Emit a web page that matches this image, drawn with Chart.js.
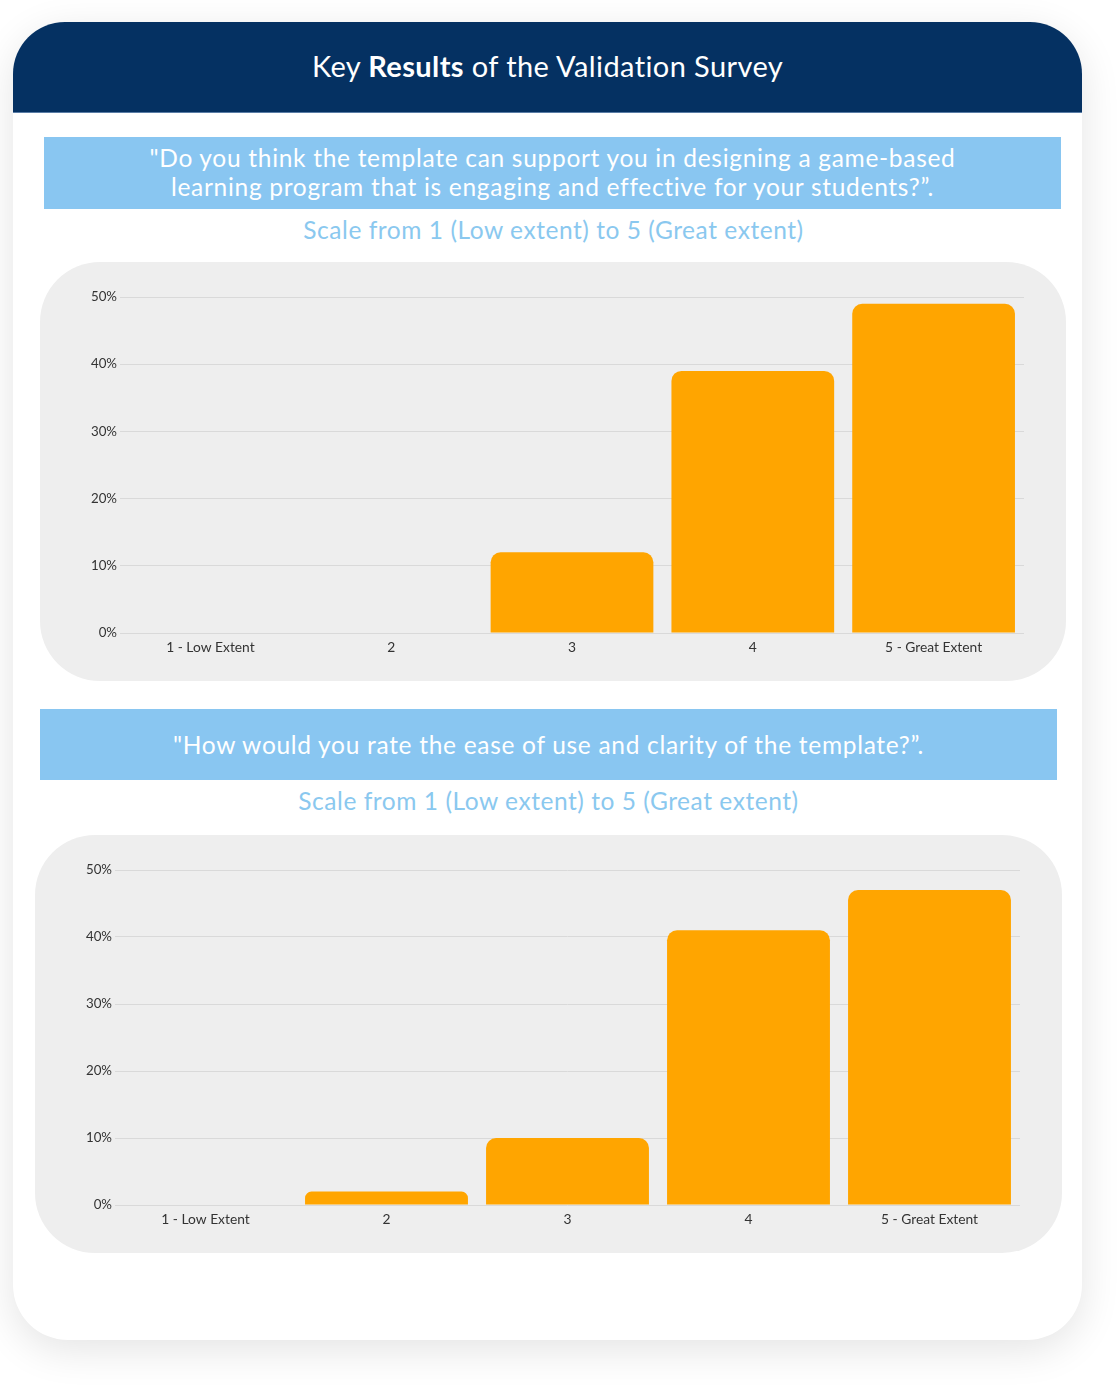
<!DOCTYPE html>
<html lang="en">
<head>
<meta charset="UTF-8">
<script src="https://cdn.jsdelivr.net/npm/chart.js"></script>
<title>Key Results of the Validation Survey</title>
<style>
  body { margin: 0; background: #fff; font-family: Lato, "Open Sans", sans-serif; }
  .card {
    position: absolute; left: 13px; top: 22px; width: 1069px; height: 1318px;
    background: #fff; border-radius: 55px;
    box-shadow: 0 10px 40px rgba(0,0,0,0.11);
  }
  .header {
    position: absolute; left: 13px; top: 22px; width: 1069px; height: 91px;
    background: #053162; border-radius: 52px 52px 0 0;
    color: #fff; font-size: 29px; letter-spacing: 0.4px; text-align: center; line-height: 88px;
    border-bottom: 1px solid #5a7da6; box-sizing: border-box;
  }
  .banner {
    position: absolute; background: #89c6f1; color: #fff;
    font-size: 24.5px; letter-spacing: 0.7px; text-align: center; display: flex;
    align-items: center; justify-content: center; line-height: 29px;
  }
  .sub {
    position: absolute; color: #8ac8ef; font-size: 24.5px; letter-spacing: 0.55px; text-align: center; width: 1117px;
  }
  .panel { position: absolute; background: #eeeeee; border-radius: 60px; }
  .panel canvas { position: absolute; left: 0; top: 0; }
</style>
</head>
<body>
<div class="card"></div>
<div class="header">Key <b>Results</b> of the Validation Survey</div>

<div class="banner" style="left:44px;top:137px;width:1017px;height:69px;padding-bottom:3px;">"Do you think the template can support you in designing a game-based<br>learning program that is engaging and effective for your students?”.</div>
<div class="sub" style="top:215px;left:-5px;">Scale from 1 (Low extent) to 5 (Great extent)</div>
<div class="panel" style="left:40px;top:262px;width:1026px;height:419px;"><canvas id="chart1" width="1026" height="419"></canvas></div>

<div class="banner" style="left:40px;top:709px;width:1017px;height:71px;">"How would you rate the ease of use and clarity of the template?”.</div>
<div class="sub" style="top:786px;left:-10px;">Scale from 1 (Low extent) to 5 (Great extent)</div>
<div class="panel" style="left:35px;top:835px;width:1027px;height:418px;"><canvas id="chart2" width="1027" height="418"></canvas></div>

<script>
const categories = ['1 - Low Extent', '2', '3', '4', '5 - Great Extent'];
const supportValues = [0, 0, 12, 39, 49];   // % of respondents, question 1
const easeValues = [0, 2, 10, 41, 47];      // % of respondents, question 2
const yTicks = [0, 10, 20, 30, 40, 50];

function makeChart(id, values) {
  const ctx = document.getElementById(id).getContext('2d');
  return new Chart(ctx, {
    type: 'bar',
    data: {
      labels: categories,
      datasets: [{
        data: values,
        backgroundColor: '#ffa500',
        borderRadius: { topLeft: 10, topRight: 10, bottomLeft: 0, bottomRight: 0 },
        borderSkipped: 'bottom',
        barPercentage: 0.9,
        categoryPercentage: 1.0
      }]
    },
    options: {
      responsive: false,
      animation: false,
      layout: { padding: { top: 35, right: 42, bottom: 26, left: 0 } },
      plugins: { legend: { display: false }, tooltip: { enabled: false } },
      scales: {
        x: {
          grid: { display: false, drawTicks: false },
          border: { display: false },
          ticks: { padding: 6, color: '#333', font: { family: 'Lato', size: 13.8 } },
          afterFit: s => { s.height = 22; }
        },
        y: {
          min: 0, max: 50,
          afterBuildTicks: s => { s.ticks = yTicks.map(v => ({ value: v })); },
          grid: { color: '#d9d9d9', drawTicks: false },
          border: { display: false },
          ticks: { padding: 3, color: '#333', font: { family: 'Lato', size: 13.3 }, callback: v => v + '%' },
          afterFit: s => { s.width = 80; }
        }
      }
    }
  });
}

makeChart('chart1', supportValues);
makeChart('chart2', easeValues);
</script>
</body>
</html>
